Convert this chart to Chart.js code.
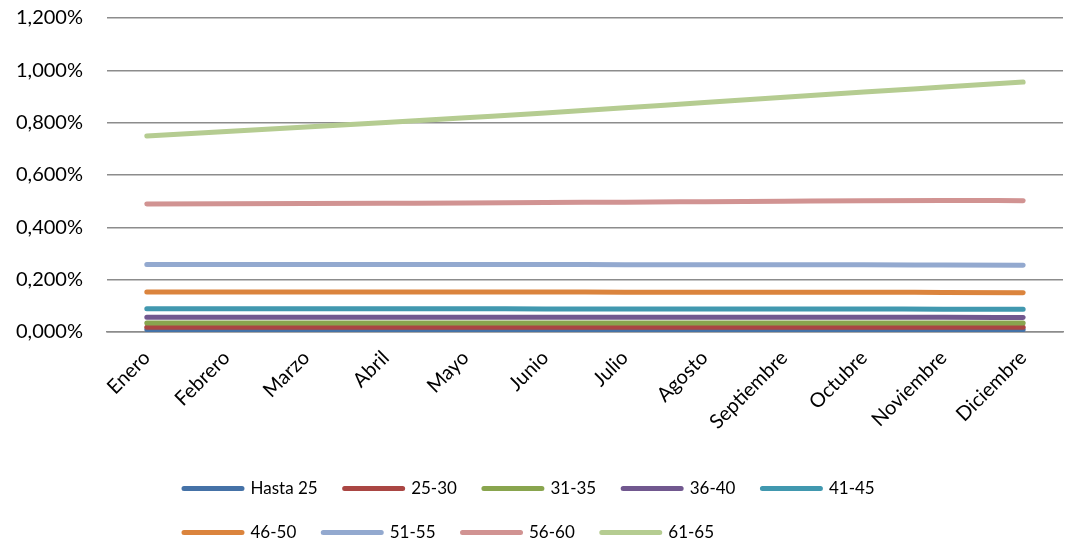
<!DOCTYPE html>
<html>
<head>
<meta charset="utf-8">
<script src="https://cdn.jsdelivr.net/npm/chart.js@4"></script>
<style>
  body { margin: 0; background: #fff; }
  #wrap { width: 1065px; height: 546px; }
</style>
</head>
<body>
<div id="wrap"><canvas id="chart1"></canvas></div>
<script>
const months = ['Enero', 'Febrero', 'Marzo', 'Abril', 'Mayo', 'Junio', 'Julio', 'Agosto', 'Septiembre', 'Octubre', 'Noviembre', 'Diciembre'];
const groups = ['Hasta 25', '25-30', '31-35', '36-40', '41-45', '46-50', '51-55', '56-60', '61-65'];
const yTicks = [0, 0.2, 0.4, 0.6, 0.8, 1.0, 1.2];

// values in percent
const hasta25 = [0.009, 0.009, 0.009, 0.009, 0.009, 0.009, 0.009, 0.009, 0.009, 0.009, 0.009, 0.009];
const r25_30 = [0.018, 0.018, 0.018, 0.018, 0.018, 0.018, 0.018, 0.018, 0.018, 0.018, 0.018, 0.018];
const r31_35 = [0.034, 0.034, 0.034, 0.034, 0.034, 0.034, 0.034, 0.034, 0.034, 0.034, 0.034, 0.034];
const r36_40 = [0.056, 0.056, 0.056, 0.056, 0.056, 0.056, 0.056, 0.056, 0.056, 0.056, 0.056, 0.055];
const r41_45 = [0.089, 0.089, 0.089, 0.089, 0.089, 0.088, 0.088, 0.088, 0.088, 0.088, 0.087, 0.087];
const r46_50 = [0.153, 0.153, 0.153, 0.153, 0.153, 0.153, 0.152, 0.152, 0.152, 0.152, 0.151, 0.150];
const r51_55 = [0.258, 0.258, 0.258, 0.258, 0.258, 0.258, 0.257, 0.257, 0.257, 0.257, 0.256, 0.255];
const r56_60 = [0.489, 0.490, 0.491, 0.492, 0.493, 0.495, 0.496, 0.498, 0.500, 0.502, 0.503, 0.502];
const r61_65 = [0.749, 0.766, 0.783, 0.801, 0.819, 0.837, 0.857, 0.877, 0.897, 0.917, 0.936, 0.955];

const series = [hasta25, r25_30, r31_35, r36_40, r41_45, r46_50, r51_55, r56_60, r61_65];
const colors = ['#4572a7', '#aa4643', '#89a54e', '#71588f', '#4198af', '#db843d', '#93a9cf', '#d19392', '#b5cc91'];

// excel puts the legend in fixed columns, nudge chart.js legend to the same start
const legendShift = {
  id: 'legendShift',
  afterLayout(chart) {
    const lg = chart.legend;
    lg.left = 157;
    lg.right = 960;
    lg.top += 5;
    lg.bottom += 5;
  }
};

const chart1 = document.getElementById('chart1');

new Chart(chart1, {
  type: 'line',
  data: {
    labels: months,
    datasets: groups.map((g, i) => ({
      label: g,
      data: series[i],
      borderColor: colors[i],
      backgroundColor: colors[i],
      borderWidth: 5,
      borderCapStyle: 'round',
      borderJoinStyle: 'round',
      pointRadius: 0,
      tension: 0.4,
      cubicInterpolationMode: 'monotone',
      order: groups.length - i
    }))
  },
  options: {
    responsive: true,
    maintainAspectRatio: false,
    animation: false,
    layout: {
      padding: { top: 0, right: 2, bottom: 0, left: 10 }
    },
    plugins: {
      legend: {
        position: 'bottom',
        align: 'start',
        labels: {
          boxWidth: 58,
          boxHeight: 0,
          padding: 27,
          color: '#000',
          font: { family: 'Lato', size: 17 },
          sort: (a, b) => a.datasetIndex - b.datasetIndex
        }
      },
      tooltip: { enabled: false }
    },
    scales: {
      x: {
        offset: true,
        afterFit: (axis) => { axis.height = 116; },
        grid: { display: false, drawTicks: false },
        border: { color: '#8c8c8c', width: 1.5 },
        ticks: {
          color: '#000',
          font: { family: 'Lato', size: 20 },
          minRotation: 45,
          maxRotation: 45,
          padding: 14,
          autoSkip: false
        }
      },
      y: {
        min: yTicks[0],
        max: yTicks[yTicks.length - 1],
        afterBuildTicks: (axis) => { axis.ticks = yTicks.map(v => ({ value: v })); },
        grid: { color: '#8c8c8c', lineWidth: 1.5, drawTicks: true, tickLength: 18, tickColor: 'rgba(0,0,0,0)' },
        border: { display: false },
        ticks: {
          color: '#000',
          font: { family: 'Lato', size: 20 },
          padding: 6,
          callback: (v) => v.toFixed(3).replace('.', ',') + '%'
        }
      }
    }
  },
  plugins: [legendShift]
});
</script>
</body>
</html>
